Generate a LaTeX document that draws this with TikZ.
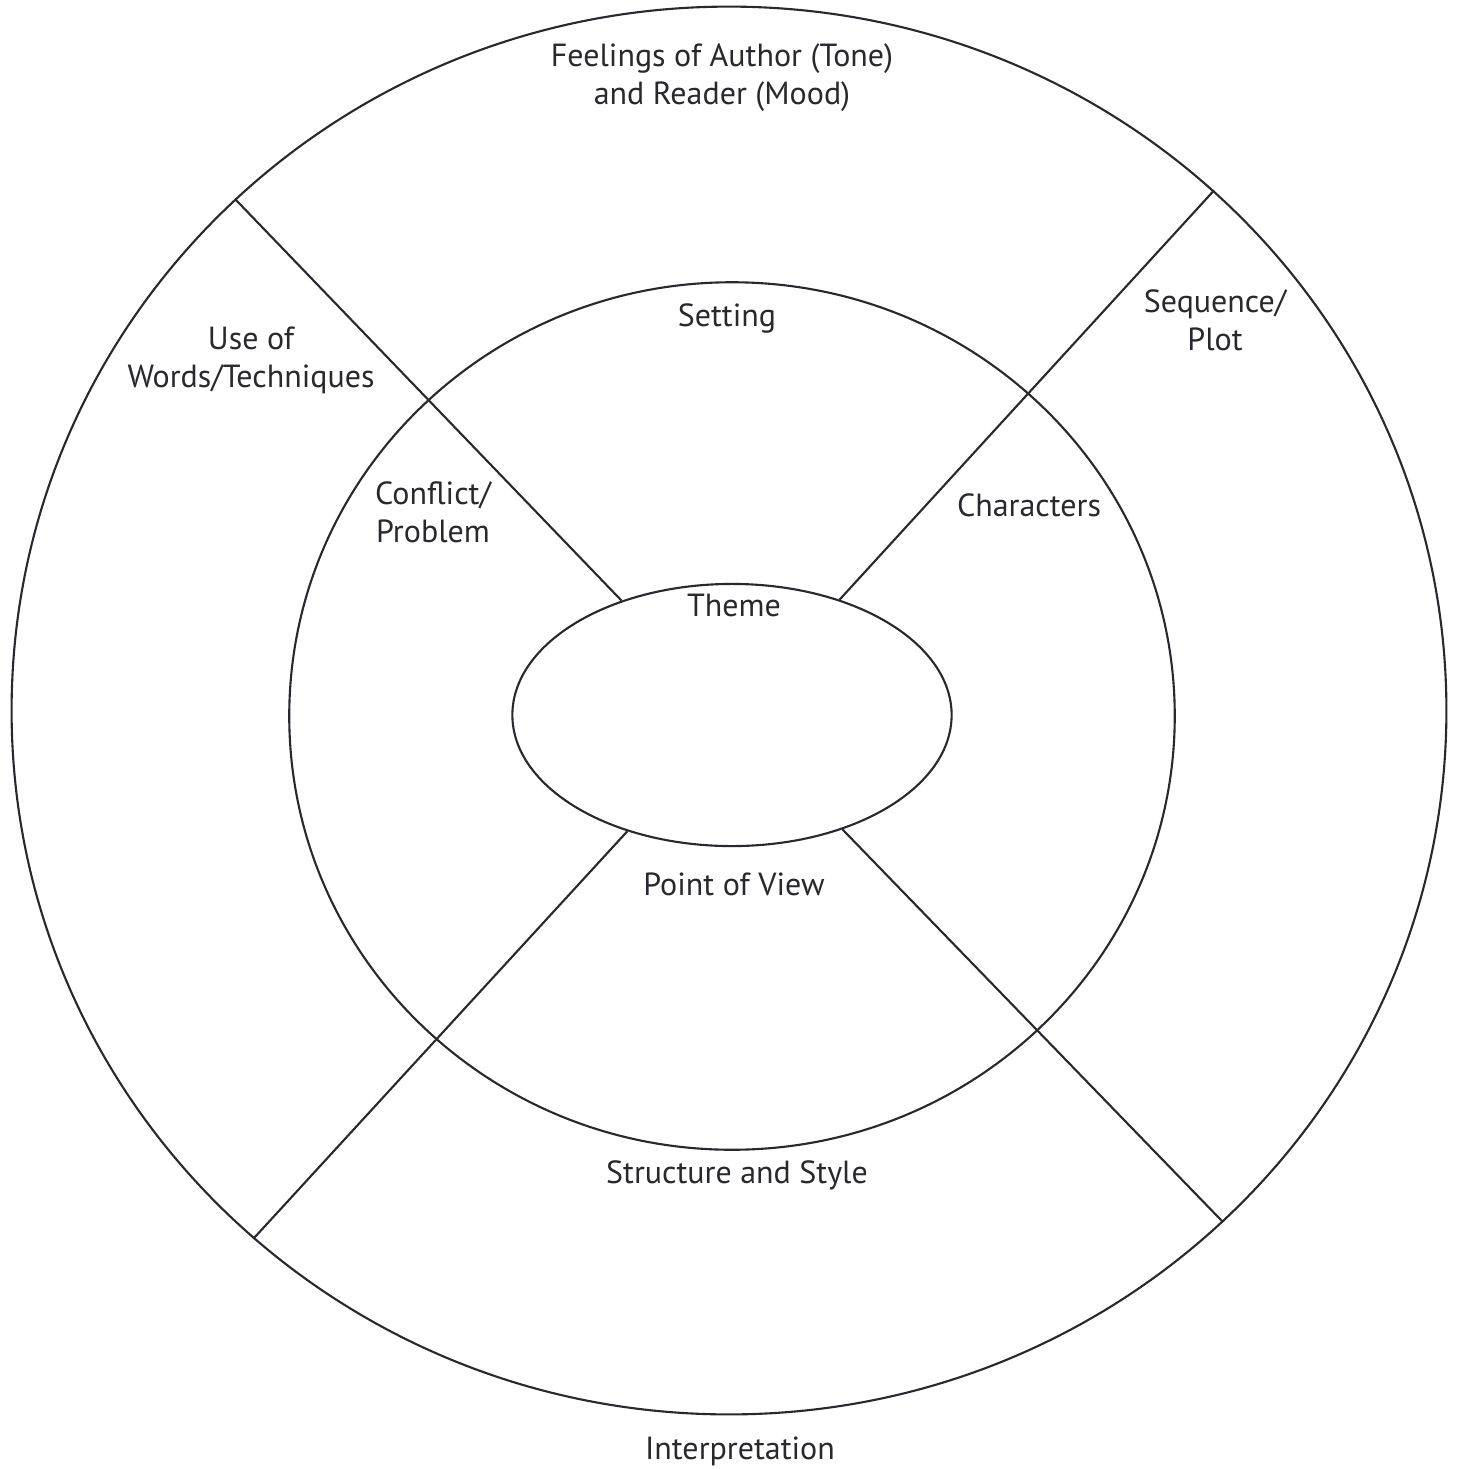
\documentclass[tikz,border=0pt]{standalone}
\usepackage{fontspec}
\setmainfont{PT Sans}
\usepackage{tikz}
\usetikzlibrary{shapes.geometric}

\definecolor{ink}{RGB}{40,40,46}

\tikzset{
  ring/.style={draw=ink, ellipse, inner sep=0pt, line width=0.6pt},
  lbl/.style={text=ink, align=center, inner sep=0pt, font=\fontsize{9.1}{10.8}\selectfont}
}

\begin{document}
\begin{tikzpicture}[x=0.01cm, y=-0.01cm]
    \useasboundingbox (0, 0) rectangle (1458, 1469);

    \node[ring, minimum width=14.34cm, minimum height=14.07cm] (outer) at (729, 710.5) {};
    \node[ring, minimum width=8.85cm, minimum height=8.67cm] (middle) at (732, 716) {};
    \node[ring, minimum width=4.39cm, minimum height=2.62cm] (inner) at (732, 715) {};

    % spokes
    \draw[ink, line width=0.6pt] (inner.134) -- (outer.134);
    \draw[ink, line width=0.6pt] (inner.47) -- (outer.47);
    \draw[ink, line width=0.6pt] (inner.228) -- (outer.228);
    \draw[ink, line width=0.6pt] (inner.314) -- (outer.314);

    \node[lbl] (tone) at (722, 78) {Feelings of Author (Tone)\\and Reader (Mood)};
    \node[lbl] (setting) at (727, 318) {Setting};
    \node[lbl] (words) at (251, 360) {Use of\\Words/Techniques};
    \node[lbl] (plot) at (1215, 320) {Sequence/\\Plot};
    \node[lbl] (conflict) at (433, 512) {Conflict/\\Problem};
    \node[lbl] (characters) at (1029, 505) {Characters};
    \node[lbl] (theme) at (734, 605) {Theme};
    \node[lbl] (view) at (734, 884) {Point of View};
    \node[lbl] (style) at (737, 1175) {Structure and Style};
    \node[lbl] (interp) at (740, 1451) {Interpretation};
\end{tikzpicture}
\end{document}
